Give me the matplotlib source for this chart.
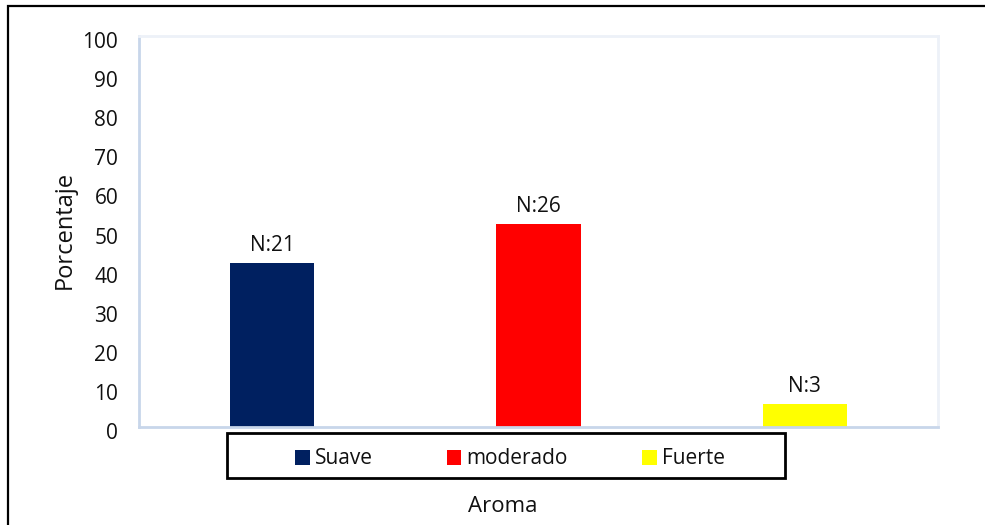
import matplotlib.pyplot as plt
import matplotlib.transforms as mtransforms
from matplotlib.patches import Rectangle, Patch

plt.rcParams['font.family'] = ['Open Sans', 'DejaVu Sans']

# aroma categories, counts (N) and percentages
categorias = ['Suave', 'moderado', 'Fuerte']
conteos = [21, 26, 3]
porcentajes = [42, 52, 6]
colores = ['#002060', '#FF0000', '#FFFF00']
yticks = [0, 10, 20, 30, 40, 50, 60, 70, 80, 90, 100]

W, H = 985, 525
fig = plt.figure(figsize=(W / 100, H / 100), dpi=100)

# outer frame
fig.patches.append(Rectangle((8 / W, -0.1), 1.2, 1 - 6 / H + 0.1, transform=fig.transFigure,
                             fill=False, edgecolor='black', linewidth=1.6, zorder=0))

ax = fig.add_axes([139 / W, 1 - 427 / H, 799 / W, 391 / H])
x = range(len(categorias))
ax.bar(x, porcentajes, width=0.316, color=colores, zorder=2)
for xi, p, n in zip(x, porcentajes, conteos):
    ax.annotate('N:%d' % n, (xi, p), xytext=(0, 12), textcoords='offset pixels',
                ha='center', va='baseline', fontsize=15, color='#111111')

ax.set_xlim(-0.5, 2.5)
ax.set_ylim(0, 100)
ax.set_xticks([])
ax.set_yticks(yticks)
ax.tick_params(axis='y', length=0, pad=15, labelsize=15, labelcolor='#111111')
shift = mtransforms.ScaledTranslation(0, -4 / 100, fig.dpi_scale_trans)
for lbl in ax.get_yticklabels():
    lbl.set_transform(lbl.get_transform() + shift)

for side in ['left', 'bottom']:
    ax.spines[side].set_color('#C8D6EA')
    ax.spines[side].set_linewidth(2)
for side in ['top', 'right']:
    ax.spines[side].set_color('#EDF1F8')
    ax.spines[side].set_linewidth(2)

fig.text(65 / W, 1 - 230 / H, 'Porcentaje', rotation=90, ha='center', va='center',
         fontsize=17, color='#111111')
fig.text(503 / W, 1 - 507 / H, 'Aroma', ha='center', va='center', fontsize=16, color='#111111')

# legend box below the plot area
fig.patches.append(Rectangle((227 / W, 1 - 478 / H), 558 / W, 45 / H, transform=fig.transFigure,
                             fill=True, facecolor='white', edgecolor='black', linewidth=2, zorder=3))
handles = [Patch(facecolor=c, edgecolor='none') for c in colores]
leg = fig.legend(handles, categorias, loc='center', bbox_to_anchor=(510 / W, 1 - 459 / H),
                 ncol=3, frameon=False, fontsize=15, handlelength=0.7, handleheight=0.7,
                 handletextpad=0.25, columnspacing=3.55, borderpad=0)
leg.set_zorder(4)
for t in leg.get_texts():
    t.set_color('#111111')

fig.savefig('out.png', dpi=100)
